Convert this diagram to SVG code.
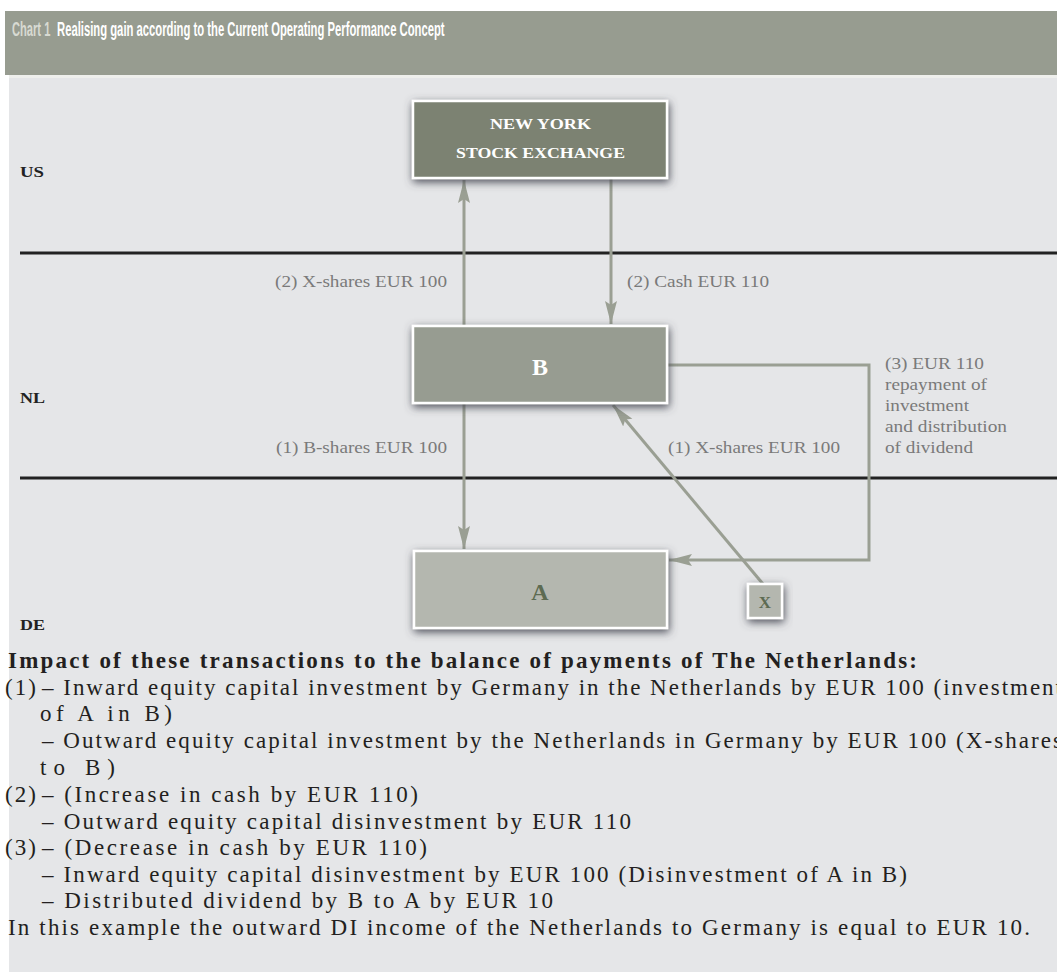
<svg xmlns="http://www.w3.org/2000/svg" width="1057" height="972" viewBox="0 0 1057 972">
<style>
.lbl{font-family:"Liberation Serif","Times New Roman",serif;font-size:16px;fill:#7a7a7a}
.ctry{font-family:"Liberation Serif","Times New Roman",serif;font-size:15px;font-weight:bold;fill:#222}
.body{font-family:"Liberation Serif","Times New Roman",serif;font-size:23px;fill:#231f20}
.nt{font-family:"Liberation Serif","Times New Roman",serif;font-weight:bold}
.ttl{font-family:"Liberation Sans",Arial,sans-serif;font-weight:bold;font-size:21px}
.node{stroke:#ffffff;stroke-width:2.5;filter:url(#sh)}
.conn{fill:none;stroke:#9a9f93;stroke-width:3}
.sep{stroke:#222;stroke-width:3}
</style>
<defs>
<filter id="sh" x="-30%" y="-40%" width="160%" height="180%">
<feDropShadow dx="1" dy="3" stdDeviation="4.5" flood-color="#464952" flood-opacity="0.95"/>
</filter>
<marker id="ah" markerUnits="userSpaceOnUse" markerWidth="26" markerHeight="14" refX="23" refY="7" orient="auto">
<path d="M0,1 L23,7 L0,13 L4,7 z" fill="#9a9f93"/>
</marker>
</defs>
<rect x="0" y="0" width="1057" height="972" fill="#ffffff"/>
<rect x="5" y="11" width="1052" height="64" fill="#979c90"/>
<rect x="9" y="75" width="1048" height="3" fill="#eeefec"/>
<rect x="9" y="78" width="1048" height="894" fill="#e5e6e8"/>
<g id="title">
<text class="ttl" transform="translate(12,36) scale(0.53,1)" x="0" y="0" fill="#d8dad2">Chart 1</text>
<text class="ttl" transform="translate(57,36) scale(0.537,1)" x="0" y="0" fill="#ffffff">Realising gain according to the Current Operating Performance Concept</text>
</g>
<g id="lanes">
<line class="sep" x1="20" y1="253" x2="1057" y2="253"/>
<line class="sep" x1="20" y1="478" x2="1057" y2="478"/>
<text class="ctry" x="20" y="177" textLength="24" lengthAdjust="spacingAndGlyphs">US</text>
<text class="ctry" x="20" y="403" textLength="25" lengthAdjust="spacingAndGlyphs">NL</text>
<text class="ctry" x="20" y="630" textLength="25" lengthAdjust="spacingAndGlyphs">DE</text>
</g>
<g id="connectors">
<path class="conn" d="M464,325 L464,180" marker-end="url(#ah)"/>
<path class="conn" d="M611,179 L611,324" marker-end="url(#ah)"/>
<path class="conn" d="M464,404 L464,549" marker-end="url(#ah)"/>
<path class="conn" d="M763,584 L613,405" marker-end="url(#ah)"/>
<path class="conn" d="M668,365 L869,365 L869,560 L669,560" marker-end="url(#ah)"/>
<text class="lbl" x="275" y="287" textLength="172" lengthAdjust="spacingAndGlyphs">(2) X-shares EUR 100</text>
<text class="lbl" x="627" y="287" textLength="142" lengthAdjust="spacingAndGlyphs">(2) Cash EUR 110</text>
<text class="lbl" x="276" y="453" textLength="171" lengthAdjust="spacingAndGlyphs">(1) B-shares EUR 100</text>
<text class="lbl" x="668" y="453" textLength="172" lengthAdjust="spacingAndGlyphs">(1) X-shares EUR 100</text>
<text class="lbl" x="885" y="369" textLength="99" lengthAdjust="spacingAndGlyphs">(3) EUR 110</text>
<text class="lbl" x="885" y="390" textLength="102" lengthAdjust="spacingAndGlyphs">repayment of</text>
<text class="lbl" x="885" y="411" textLength="84" lengthAdjust="spacingAndGlyphs">investment</text>
<text class="lbl" x="885" y="432" textLength="122" lengthAdjust="spacingAndGlyphs">and distribution</text>
<text class="lbl" x="885" y="453" textLength="88" lengthAdjust="spacingAndGlyphs">of dividend</text>
</g>
<g id="nyse">
<rect class="node" x="413" y="101" width="254" height="77" fill="#7b8272"/>
<text class="nt" x="490" y="129" font-size="15" fill="#ffffff" textLength="101" lengthAdjust="spacingAndGlyphs">NEW YORK</text>
<text class="nt" x="456" y="158" font-size="15" fill="#ffffff" textLength="169" lengthAdjust="spacingAndGlyphs">STOCK EXCHANGE</text>
</g>
<g id="nodeB">
<rect class="node" x="413" y="326" width="254" height="77" fill="#979c91"/>
<text class="nt" x="540" y="375" text-anchor="middle" font-size="24" fill="#ffffff">B</text>
</g>
<g id="nodeA">
<rect class="node" x="414" y="551" width="253" height="77" fill="#b4b7af"/>
<text class="nt" x="540" y="600" text-anchor="middle" font-size="24" fill="#5d6b52">A</text>
</g>
<g id="nodeX">
<rect class="node" x="748" y="584" width="34" height="34" fill="#b4b7af"/>
<text class="nt" x="765" y="608" text-anchor="middle" font-size="17" fill="#5d6b52">X</text>
</g>
<g id="notes">
<text class="body" x="8" y="668" font-weight="bold" textLength="909" lengthAdjust="spacing">Impact of these transactions to the balance of payments of The Netherlands:</text>
<text class="body" x="5" y="695" textLength="31" lengthAdjust="spacing">(1)</text>
<text class="body" x="42" y="695" textLength="1020" lengthAdjust="spacing">– Inward equity capital investment by Germany in the Netherlands by EUR 100 (investment</text>
<text class="body" x="40" y="721" textLength="132" lengthAdjust="spacing">of A in B)</text>
<text class="body" x="42" y="748" textLength="1020" lengthAdjust="spacing">– Outward equity capital investment by the Netherlands in Germany by EUR 100 (X-shares</text>
<text class="body" x="40" y="775" textLength="75" lengthAdjust="spacing">to B)</text>
<text class="body" x="5" y="802" textLength="31" lengthAdjust="spacing">(2)</text>
<text class="body" x="42" y="802" textLength="376" lengthAdjust="spacing">– (Increase in cash by EUR 110)</text>
<text class="body" x="42" y="829" textLength="589" lengthAdjust="spacing">– Outward equity capital disinvestment by EUR 110</text>
<text class="body" x="5" y="855" textLength="31" lengthAdjust="spacing">(3)</text>
<text class="body" x="42" y="855" textLength="385" lengthAdjust="spacing">– (Decrease in cash by EUR 110)</text>
<text class="body" x="42" y="882" textLength="865" lengthAdjust="spacing">– Inward equity capital disinvestment by EUR 100 (Disinvestment of A in B)</text>
<text class="body" x="42" y="908" textLength="511" lengthAdjust="spacing">– Distributed dividend by B to A by EUR 10</text>
<text class="body" x="8" y="935" textLength="1022" lengthAdjust="spacing">In this example the outward DI income of the Netherlands to Germany is equal to EUR 10.</text>
</g>
</svg>
